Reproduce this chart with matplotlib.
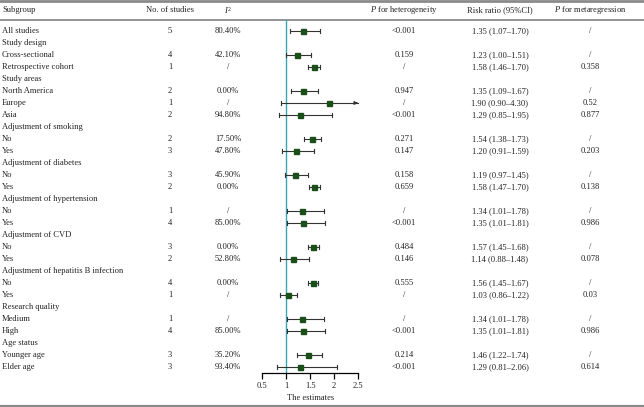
import matplotlib
matplotlib.use("Agg")
import matplotlib.pyplot as plt
import numpy as np

plt.rcParams['font.family'] = ['Liberation Serif', 'DejaVu Serif']
plt.rcParams['mathtext.fontset'] = 'custom'
plt.rcParams['mathtext.rm'] = 'Liberation Serif'
plt.rcParams['mathtext.it'] = 'Liberation Serif:italic'

labels = ["All studies", "Study design", "Cross-sectional", "Retrospective cohort",
          "Study areas", "North America", "Europe", "Asia",
          "Adjustment of smoking", "No", "Yes",
          "Adjustment of diabetes", "No", "Yes",
          "Adjustment of hypertension", "No", "Yes",
          "Adjustment of CVD", "No", "Yes",
          "Adjustment of hepatitis B infection", "No", "Yes",
          "Research quality", "Medium", "High",
          "Age status", "Younger age", "Elder age"]
n_studies = ["5", "", "4", "1", "", "2", "1", "2", "", "2", "3", "", "3", "2", "", "1", "4",
             "", "3", "2", "", "4", "1", "", "1", "4", "", "3", "3"]
i2 = ["80.40%", "", "42.10%", "/", "", "0.00%", "/", "94.80%", "", "17.50%", "47.80%",
      "", "45.90%", "0.00%", "", "/", "85.00%", "", "0.00%", "52.80%", "", "0.00%", "/",
      "", "/", "85.00%", "", "35.20%", "93.40%"]
p_het = ["<0.001", "", "0.159", "/", "", "0.947", "/", "<0.001", "", "0.271", "0.147",
         "", "0.158", "0.659", "", "/", "<0.001", "", "0.484", "0.146", "", "0.555", "/",
         "", "/", "<0.001", "", "0.214", "<0.001"]
rr = [1.35, None, 1.23, 1.58, None, 1.35, 1.90, 1.29, None, 1.54, 1.20, None, 1.19, 1.58,
      None, 1.34, 1.35, None, 1.57, 1.14, None, 1.56, 1.03, None, 1.34, 1.35, None, 1.46, 1.29]
lo = [1.07, None, 1.00, 1.46, None, 1.09, 0.90, 0.85, None, 1.38, 0.91, None, 0.97, 1.47,
      None, 1.01, 1.01, None, 1.45, 0.88, None, 1.45, 0.86, None, 1.01, 1.01, None, 1.22, 0.81]
hi = [1.70, None, 1.51, 1.70, None, 1.67, 4.30, 1.95, None, 1.73, 1.59, None, 1.45, 1.70,
      None, 1.78, 1.81, None, 1.68, 1.48, None, 1.67, 1.22, None, 1.78, 1.81, None, 1.74, 2.06]
p_meta = ["/", "", "/", "0.358", "", "/", "0.52", "0.877", "", "/", "0.203", "", "/", "0.138",
          "", "/", "0.986", "", "/", "0.078", "", "/", "0.03", "", "/", "0.986", "", "/", "0.614"]
headers = ["Subgroup", "No. of studies", "$\\it{I}^2$", "$\\it{P}$ for heterogeneity",
           "Risk ratio (95%CI)", "$\\it{P}$ for metaregression"]
xticks = [0.5, 1, 1.5, 2, 2.5]

W, H = 644, 407
fig = plt.figure(figsize=(W / 100, H / 100), dpi=100)

# table axes over the whole figure, y in row units
row0, step = 31, 12
ax_t = fig.add_axes([0, 0, 1, 1])
ax_t.set_xlim(0, W)
ax_t.set_ylim((H - row0) / step, -row0 / step)
ax_t.axis('off')

fs = 6.1
tc = '#222222'
hy = (10 - row0) / step
col_x = [2, 170, 228, 404, 500, 590]
ax_t.text(col_x[0], hy, headers[0], ha='left', va='center', fontsize=fs, color=tc)
for cx, h in zip(col_x[1:], headers[1:]):
    ax_t.text(cx, hy, h, ha='center', va='center', fontsize=fs, color=tc)

for i, lab in enumerate(labels):
    ax_t.text(col_x[0], i, lab, ha='left', va='center', fontsize=fs, color=tc)
    ax_t.text(col_x[1], i, n_studies[i], ha='center', va='center', fontsize=fs, color=tc)
    ax_t.text(col_x[2], i, i2[i], ha='center', va='center', fontsize=fs, color=tc)
    ax_t.text(col_x[3], i, p_het[i], ha='center', va='center', fontsize=fs, color=tc)
    if rr[i] is not None:
        ax_t.text(col_x[4], i, f"{rr[i]:.2f} ({lo[i]:.2f}\u2013{hi[i]:.2f})",
                  ha='center', va='center', fontsize=fs, color=tc)
    ax_t.text(col_x[5], i, p_meta[i], ha='center', va='center', fontsize=fs, color=tc)

# horizontal rules
for yp, lw, c in [(1.2, 2.0, '#8a8a8a'), (19.5, 1.3, '#8a8a8a'), (406, 1.6, '#8a8a8a')]:
    ax_t.axhline((yp - row0) / step, color=c, lw=lw)

# forest axes
x0, x1 = 262.3, 358.0
ytop, ybot = 19.5, 372.5
ax = fig.add_axes([x0 / W, (H - ybot) / H, (x1 - x0) / W, (ybot - ytop) / H])
ax.patch.set_alpha(0)
ax.set_xlim(0.5, 2.5)
ax.set_ylim((ybot - row0) / step, (ytop - row0) / step)
for s in ['top', 'right', 'left']:
    ax.spines[s].set_visible(False)
ax.spines['bottom'].set_linewidth(0.9)
ax.set_yticks([])
ax.set_xticks(xticks)
ax.set_xticklabels([f"{t:g}" for t in xticks], fontsize=fs, color=tc)
ax.tick_params(axis='x', length=4, width=0.9, pad=2.5)
ax.set_xlabel("The estimates", fontsize=fs, labelpad=3.5, color=tc)
ax.axvline(1, color='#3aa6b5', lw=1.0, zorder=1)

xmax = 2.5
for i in range(len(labels)):
    if rr[i] is None:
        continue
    h = min(hi[i], xmax)
    ax.plot([lo[i], h], [i, i], color='#333333', lw=0.8, zorder=2, clip_on=False)
    ax.plot([lo[i], lo[i]], [i - 0.13, i + 0.13], color='#333333', lw=0.8, zorder=2)
    if hi[i] > xmax:
        ax.annotate('', xy=(xmax, i), xytext=(xmax - 0.1, i),
                    arrowprops=dict(arrowstyle='-|>', color='#333333', lw=0.8,
                                    mutation_scale=5), annotation_clip=False)
    else:
        ax.plot([h, h], [i - 0.13, i + 0.13], color='#333333', lw=0.8, zorder=2)
    ax.plot(rr[i], i, marker='s', ms=3.6, color='#1a4f1a', zorder=3, ls='none')

fig.savefig("out.png", dpi=100)
